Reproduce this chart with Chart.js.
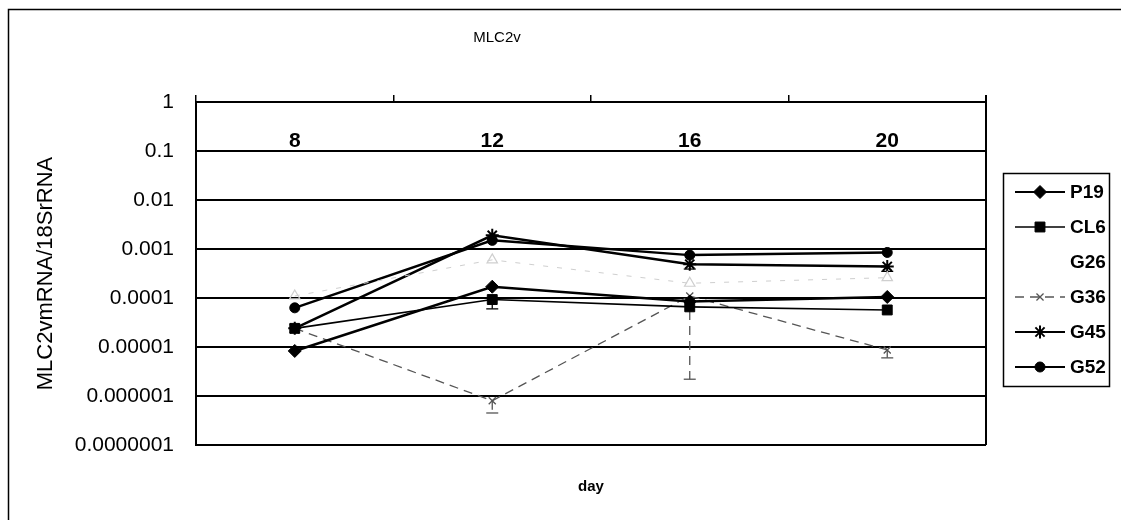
<!DOCTYPE html>
<html>
<head>
<meta charset="utf-8">
<script src="https://cdn.jsdelivr.net/npm/chart.js@4.4.1/dist/chart.umd.min.js"></script>
<style>
  html, body { margin: 0; padding: 0; background: #fff; }
  #wrap { width: 1121px; height: 520px; position: relative; }
</style>
</head>
<body>
<div id="wrap"><canvas id="c" width="1121" height="520"></canvas></div>
<script>
// Culture day (x categories)
const days = ['8', '12', '16', '20'];

// MLC2v mRNA / 18S rRNA per cell line
const p19 = [8.3e-6, 1.7e-4, 8.5e-5, 1.05e-4];
const cl6 = [2.4e-5, 9.3e-5, 6.6e-5, 5.7e-5];
const g26 = [1.1e-4, 6.0e-4, 2.0e-4, 2.6e-4];
const g36 = [2.4e-5, 8.0e-7, 1.1e-4, 8.7e-6];
const g45 = [2.4e-5, 1.9e-3, 4.9e-4, 4.4e-4];
const g52 = [6.3e-5, 1.5e-3, 7.5e-4, 8.5e-4];

// Lower ends of the error bars (null: no bar)
const cl6Low = [null, 6.0e-5, null, null];
const g36Low = [null, 4.5e-7, 2.2e-6, 6.0e-6];
const g45Low = [null, null, 3.9e-4, 3.5e-4];

// Decade ticks of the log axis
const yTickValues = [1e-7, 1e-6, 1e-5, 1e-4, 1e-3, 1e-2, 1e-1, 1];
const yTickLabels = ['0.0000001', '0.000001', '0.00001', '0.0001', '0.001', '0.01', '0.1', '1'];

const FONT = "'Liberation Sans', Arial, Helvetica, sans-serif";

function drawMarker(ctx, style, r, x, y, fill, stroke, lw) {
  ctx.save();
  ctx.setLineDash([]);
  ctx.lineWidth = lw;
  ctx.strokeStyle = stroke;
  ctx.fillStyle = fill;
  ctx.beginPath();
  const s = r * Math.SQRT1_2;
  switch (style) {
    case 'rectRot':
      ctx.moveTo(x - r, y); ctx.lineTo(x, y - r); ctx.lineTo(x + r, y); ctx.lineTo(x, y + r);
      ctx.closePath(); ctx.fill(); ctx.stroke(); break;
    case 'rect':
      ctx.rect(x - s, y - s, 2 * s, 2 * s); ctx.fill(); ctx.stroke(); break;
    case 'triangle':
      ctx.moveTo(x, y - r); ctx.lineTo(x + r * 0.866, y + r * 0.5); ctx.lineTo(x - r * 0.866, y + r * 0.5);
      ctx.closePath(); ctx.fill(); ctx.stroke(); break;
    case 'crossRot':
      ctx.moveTo(x - s, y - s); ctx.lineTo(x + s, y + s);
      ctx.moveTo(x - s, y + s); ctx.lineTo(x + s, y - s);
      ctx.stroke(); break;
    case 'star':
      ctx.moveTo(x - s, y - s); ctx.lineTo(x + s, y + s);
      ctx.moveTo(x - s, y + s); ctx.lineTo(x + s, y - s);
      ctx.moveTo(x, y - r); ctx.lineTo(x, y + r);
      ctx.moveTo(x - r, y); ctx.lineTo(x + r, y);
      ctx.stroke(); break;
    default:
      ctx.arc(x, y, r, 0, Math.PI * 2); ctx.fill(); ctx.stroke();
  }
  ctx.restore();
}

const datasets = [
  { label: 'P19', data: p19, borderColor: '#000', backgroundColor: '#000', borderWidth: 2.5,
    pointStyle: 'rectRot', pointRadius: 6.5, pointBorderWidth: 1 },
  { label: 'CL6', data: cl6, borderColor: '#000', backgroundColor: '#000', borderWidth: 1.6,
    pointStyle: 'rect', pointRadius: 7, pointBorderWidth: 1, errLow: cl6Low },
  // pale series: its legend key is left blank
  { label: 'G26', data: g26, borderColor: '#cfcfcf', backgroundColor: 'rgba(255,255,255,0)', borderWidth: 1,
    borderDash: [5, 9], pointStyle: 'triangle', pointRadius: 6, pointBorderWidth: 1.2, hideKey: true },
  { label: 'G36', data: g36, borderColor: '#555', backgroundColor: '#555', borderWidth: 1.3,
    borderDash: [9, 6], pointStyle: 'crossRot', pointRadius: 5, pointBorderWidth: 1.3, errLow: g36Low },
  { label: 'G45', data: g45, borderColor: '#000', backgroundColor: '#000', borderWidth: 2.5,
    pointStyle: 'star', pointRadius: 6.5, pointBorderWidth: 2, errLow: g45Low },
  { label: 'G52', data: g52, borderColor: '#000', backgroundColor: '#000', borderWidth: 2.5,
    pointStyle: 'circle', pointRadius: 5, pointBorderWidth: 1 }
].map(d => Object.assign({ fill: false, tension: 0, xAxisID: 'x', yAxisID: 'y' }, d));

const framePlugin = {
  id: 'frame',
  beforeDraw(chart) {
    const ctx = chart.ctx;
    ctx.save();
    ctx.fillStyle = '#fff';
    ctx.fillRect(0, 0, chart.width, chart.height);
    // outer chart border
    ctx.strokeStyle = '#000';
    ctx.lineWidth = 1.5;
    ctx.strokeRect(8.5, 9.5, chart.width + 20, chart.height + 20);
    ctx.restore();
  },
  beforeDatasetsDraw(chart) {
    // error bars (minus direction)
    const ctx = chart.ctx;
    const xs = chart.scales.x, ys = chart.scales.y;
    chart.data.datasets.forEach(ds => {
      if (!ds.errLow) return;
      ctx.save();
      ctx.strokeStyle = ds.borderColor;
      ctx.lineWidth = 1.3;
      ds.errLow.forEach((lo, i) => {
        if (lo == null) return;
        const x = xs.getPixelForValue(i);
        const y1 = ys.getPixelForValue(ds.data[i]);
        const y2 = ys.getPixelForValue(lo);
        ctx.setLineDash(ds.borderDash || []);
        ctx.beginPath(); ctx.moveTo(x, y1); ctx.lineTo(x, y2); ctx.stroke();
        ctx.setLineDash([]);
        ctx.beginPath(); ctx.moveTo(x - 6, y2); ctx.lineTo(x + 6, y2); ctx.stroke();
      });
      ctx.restore();
    });
  },
  afterDraw(chart) {
    const ctx = chart.ctx;
    const a = chart.chartArea;
    ctx.save();
    // right edge of plot area
    ctx.strokeStyle = '#000';
    ctx.lineWidth = 2;
    ctx.beginPath(); ctx.moveTo(a.right, a.top - 7); ctx.lineTo(a.right, a.bottom); ctx.stroke();

    // legend
    const lx = 1003.5, ly = 173.5, lw = 106, lh = 213;
    ctx.lineWidth = 1.5;
    ctx.strokeRect(lx, ly, lw, lh);
    chart.data.datasets.forEach((ds, i) => {
      const y = 192 + i * 35;
      if (!ds.hideKey) {
        ctx.save();
        ctx.strokeStyle = ds.borderColor;
        ctx.lineWidth = Math.min(ds.borderWidth, 2);
        ctx.setLineDash(ds.borderDash || []);
        ctx.beginPath(); ctx.moveTo(1015, y); ctx.lineTo(1065, y); ctx.stroke();
        ctx.restore();
        drawMarker(ctx, ds.pointStyle, ds.pointRadius, 1040, y,
          ds.backgroundColor, ds.borderColor, ds.pointBorderWidth);
      }
      ctx.fillStyle = '#000';
      ctx.font = 'bold 19px ' + FONT;
      ctx.textAlign = 'left';
      ctx.textBaseline = 'middle';
      ctx.fillText(ds.label, 1070, y + 1);
    });
    ctx.restore();
  }
};

new Chart(document.getElementById('c'), {
  type: 'line',
  data: { labels: days, datasets },
  options: {
    responsive: false,
    animation: false,
    devicePixelRatio: 1,
    layout: { padding: { left: 8, right: 135, top: 0, bottom: 0 } },
    plugins: {
      legend: { display: false },
      tooltip: { enabled: false },
      title: {
        display: true, text: 'MLC2v', color: '#000',
        font: { family: FONT, size: 15, weight: 'normal' },
        padding: { top: 29, bottom: 48 }
      }
    },
    scales: {
      x: {
        type: 'category', position: 'top', offset: true,
        grid: { display: true, drawOnChartArea: false, drawTicks: true, tickLength: 7,
                color: '#000', lineWidth: 1.5, offset: true },
        border: { display: true, color: '#000', width: 2 },
        ticks: { display: false },
        afterFit(s) { s.height = 7; }
      },
      xLab: {
        type: 'category', position: { y: 1 }, offset: true,
        grid: { display: false }, border: { display: false },
        ticks: { color: '#000', font: { family: FONT, size: 21, weight: 'bold' },
                 padding: 19, maxRotation: 0, autoSkip: false }
      },
      xDay: {
        type: 'category', position: 'bottom', offset: true,
        grid: { display: false }, border: { display: false },
        ticks: { display: false },
        title: { display: true, text: 'day', color: '#000',
                 font: { family: FONT, size: 15, weight: 'bold' },
                 padding: { top: 0, bottom: 24 } },
        afterFit(s) { s.height = 75; }
      },
      y: {
        type: 'logarithmic', position: 'left', min: 1e-7, max: 1,
        afterBuildTicks(s) { s.ticks = yTickValues.map(v => ({ value: v })); },
        grid: { color: '#000', lineWidth: 2, drawTicks: false },
        border: { display: true, color: '#000', width: 2 },
        ticks: {
          color: '#000', padding: 22, autoSkip: false,
          font: { family: FONT, size: 21 },
          callback: (v) => yTickLabels[Math.round(Math.log10(v)) + 7]
        },
        title: { display: true, text: 'MLC2vmRNA/18SrRNA', color: '#000',
                 font: { family: FONT, size: 22, weight: 'normal' },
                 padding: { top: 24.8, bottom: 0 } },
        afterFit(s) { s.width = 188; }
      }
    }
  },
  plugins: [framePlugin]
});
</script>
</body>
</html>
